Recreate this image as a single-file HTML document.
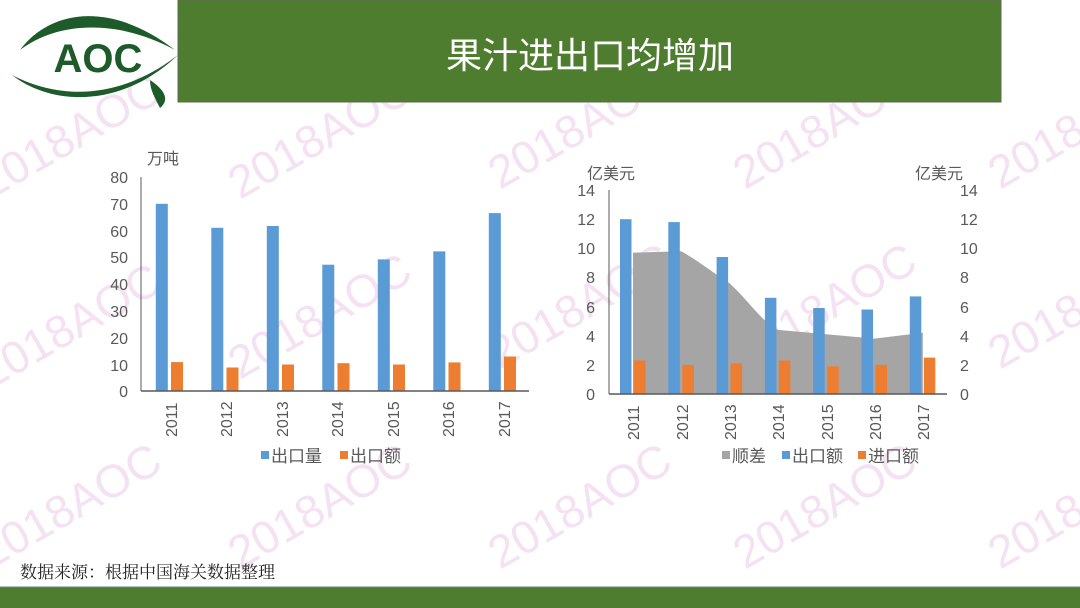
<!DOCTYPE html>
<html><head><meta charset="utf-8"><style>
html,body{margin:0;padding:0;background:#fff;}
body{width:1080px;height:608px;overflow:hidden;position:relative;font-family:"Liberation Sans","Noto Sans CJK SC",sans-serif;}
</style></head><body>
<svg width="1080" height="608" viewBox="0 0 1080 608" xmlns="http://www.w3.org/2000/svg" style="position:absolute;left:0;top:0">
<g font-family="Liberation Sans, sans-serif" font-size="46" fill="#f4e2f3">
<text transform="translate(-10,200) rotate(-30)">2018AOC</text>
<text transform="translate(240,200) rotate(-30)">2018AOC</text>
<text transform="translate(500,190) rotate(-30)">2018AOC</text>
<text transform="translate(745,190) rotate(-30)">2018AOC</text>
<text transform="translate(1000,190) rotate(-30)">2018AOC</text>
<text transform="translate(-10,390) rotate(-30)">2018AOC</text>
<text transform="translate(240,380) rotate(-30)">2018AOC</text>
<text transform="translate(500,370) rotate(-30)">2018AOC</text>
<text transform="translate(745,370) rotate(-30)">2018AOC</text>
<text transform="translate(1000,370) rotate(-30)">2018AOC</text>
<text transform="translate(-10,570) rotate(-30)">2018AOC</text>
<text transform="translate(240,570) rotate(-30)">2018AOC</text>
<text transform="translate(500,570) rotate(-30)">2018AOC</text>
<text transform="translate(745,570) rotate(-30)">2018AOC</text>
<text transform="translate(1000,570) rotate(-30)">2018AOC</text>
</g>
<!-- header -->
<rect x="178" y="0" width="823" height="102" fill="#4f7d30" stroke="#5b6b50" stroke-width="1"/>
<text x="590" y="68" text-anchor="middle" font-family="Liberation Sans, Noto Sans CJK SC, sans-serif" font-size="36" fill="#fff">果汁进出口均增加</text>
<!-- logo -->
<g fill="#1d5b2a">
<path d="M20,50 C50,10 110,0 175,50 C120,20 60,20 20,50 Z"/>
<path d="M12,75 C60,100 120,100 178,55 C120,110 50,105 12,75 Z"/>
<path d="M150,80 C165,90 170,100 160,108 C155,98 150,90 150,80 Z"/>
<text x="98" y="72" text-anchor="middle" font-family="Liberation Sans Narrow, Liberation Sans, sans-serif" font-weight="bold" font-size="40">AOC</text>
</g>
<!-- bottom -->
<rect x="0" y="587" width="1080" height="21" fill="#4f7d30"/>
<line x1="0" y1="587" x2="1080" y2="587" stroke="#6a7f93" stroke-width="1"/>
<text x="20" y="578" font-family="Liberation Serif, Noto Serif CJK SC, serif" font-size="17" fill="#222">数据来源：根据中国海关数据整理</text>

<!-- left chart -->
<g font-family="Liberation Sans, Noto Sans CJK SC, sans-serif" fill="#595959" font-size="16">
<text x="147" y="164">万吨</text>
<g text-anchor="end">
<text x="128" y="183">80</text><text x="128" y="210">70</text><text x="128" y="237">60</text><text x="128" y="263">50</text>
<text x="128" y="290">40</text><text x="128" y="317">30</text><text x="128" y="344">20</text><text x="128" y="371">10</text><text x="128" y="397">0</text>
</g>
</g>
<g fill="#5b9bd5">
<rect x="155.8" y="203.8" width="12" height="187.2"/>
<rect x="211.3" y="227.8" width="12" height="163.2"/>
<rect x="266.8" y="226" width="12" height="165"/>
<rect x="322.3" y="264.7" width="12" height="126.3"/>
<rect x="377.8" y="259.4" width="12" height="131.6"/>
<rect x="433.3" y="251.4" width="12" height="139.6"/>
<rect x="488.8" y="213.1" width="12" height="177.9"/>
</g>
<g fill="#ed7d31">
<rect x="171" y="362.1" width="12" height="28.9"/>
<rect x="226.5" y="367.5" width="12" height="23.5"/>
<rect x="282" y="364.5" width="12" height="26.5"/>
<rect x="337.5" y="363.2" width="12" height="27.8"/>
<rect x="393" y="364.5" width="12" height="26.5"/>
<rect x="448.5" y="362.4" width="12" height="28.6"/>
<rect x="504" y="356.5" width="12" height="34.5"/>
</g>
<line x1="141" y1="177" x2="141" y2="391" stroke="#595959" stroke-width="1"/>
<line x1="141" y1="391" x2="529" y2="391" stroke="#595959" stroke-width="1.5"/>
<g font-family="Liberation Sans, sans-serif" fill="#595959" font-size="16">
<text transform="translate(177,437) rotate(-90)">2011</text>
<text transform="translate(232,437) rotate(-90)">2012</text>
<text transform="translate(288,437) rotate(-90)">2013</text>
<text transform="translate(343,437) rotate(-90)">2014</text>
<text transform="translate(399,437) rotate(-90)">2015</text>
<text transform="translate(454,437) rotate(-90)">2016</text>
<text transform="translate(510,437) rotate(-90)">2017</text>
</g>
<rect x="261" y="451" width="8" height="8" fill="#5b9bd5"/>
<rect x="340" y="451" width="8" height="8" fill="#ed7d31"/>
<g font-family="Liberation Sans, Noto Sans CJK SC, sans-serif" fill="#595959" font-size="17">
<text x="271" y="462">出口量</text><text x="350" y="462">出口额</text>
</g>

<!-- right chart -->
<g font-family="Liberation Sans, Noto Sans CJK SC, sans-serif" fill="#595959" font-size="16">
<text x="587" y="179">亿美元</text>
<text x="915" y="179">亿美元</text>
<g text-anchor="end">
<text x="595" y="196">14</text><text x="595" y="225">12</text><text x="595" y="254">10</text><text x="595" y="283">8</text>
<text x="595" y="313">6</text><text x="595" y="342">4</text><text x="595" y="371">2</text><text x="595" y="400">0</text>
</g>
<g>
<text x="960" y="196">14</text><text x="960" y="225">12</text><text x="960" y="254">10</text><text x="960" y="283">8</text>
<text x="960" y="313">6</text><text x="960" y="342">4</text><text x="960" y="371">2</text><text x="960" y="400">0</text>
</g>
</g>
<path d="M633,394 L633,252.7 L681.3,251.2 C700,262 712,272 729.6,283.3 C748,300 760,320 777.9,329.9 L826.2,334.3 L874.5,338.6 L922.8,332.8 L922.8,394 Z" fill="#a5a5a5"/>
<g fill="#5b9bd5">
<rect x="620" y="219.2" width="11.5" height="174.8"/>
<rect x="668.3" y="222.1" width="11.5" height="171.9"/>
<rect x="716.6" y="257" width="11.5" height="137"/>
<rect x="764.9" y="297.8" width="11.5" height="96.2"/>
<rect x="813.2" y="308" width="11.5" height="86"/>
<rect x="861.5" y="309.5" width="11.5" height="84.5"/>
<rect x="909.8" y="296.4" width="11.5" height="97.6"/>
</g>
<g fill="#ed7d31">
<rect x="634" y="360.5" width="11.5" height="33.5"/>
<rect x="682.3" y="364.9" width="11.5" height="29.1"/>
<rect x="730.6" y="363.4" width="11.5" height="30.6"/>
<rect x="778.9" y="360.5" width="11.5" height="33.5"/>
<rect x="827.2" y="366.3" width="11.5" height="27.7"/>
<rect x="875.5" y="364.9" width="11.5" height="29.1"/>
<rect x="923.8" y="357.6" width="11.5" height="36.4"/>
</g>
<line x1="609" y1="190" x2="609" y2="394" stroke="#595959" stroke-width="1"/>
<line x1="609" y1="394" x2="947" y2="394" stroke="#595959" stroke-width="1.5"/>
<g font-family="Liberation Sans, sans-serif" fill="#595959" font-size="16">
<text transform="translate(639,440) rotate(-90)">2011</text>
<text transform="translate(688,440) rotate(-90)">2012</text>
<text transform="translate(736,440) rotate(-90)">2013</text>
<text transform="translate(784,440) rotate(-90)">2014</text>
<text transform="translate(833,440) rotate(-90)">2015</text>
<text transform="translate(881,440) rotate(-90)">2016</text>
<text transform="translate(929,440) rotate(-90)">2017</text>
</g>
<rect x="722" y="451" width="8" height="8" fill="#a5a5a5"/>
<rect x="782" y="451" width="8" height="8" fill="#5b9bd5"/>
<rect x="858" y="451" width="8" height="8" fill="#ed7d31"/>
<g font-family="Liberation Sans, Noto Sans CJK SC, sans-serif" fill="#595959" font-size="17">
<text x="732" y="462">顺差</text><text x="792" y="462">出口额</text><text x="868" y="462">进口额</text>
</g>
</svg>
</body></html>
